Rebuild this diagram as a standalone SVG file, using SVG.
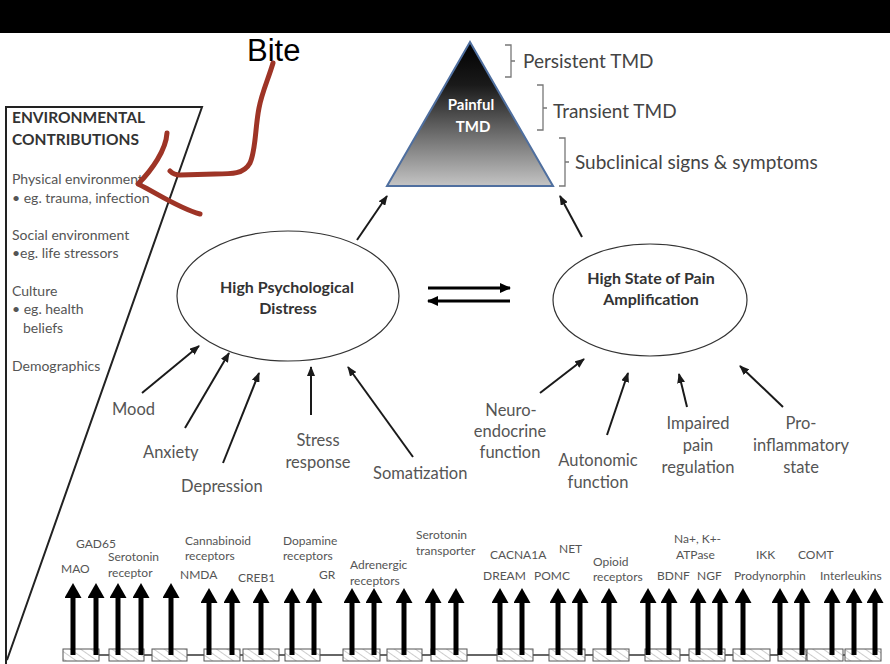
<svg xmlns="http://www.w3.org/2000/svg" width="890" height="664" viewBox="0 0 890 664">
<defs>
<style>
.t{font-family:Lato,"Open Sans","Liberation Sans",sans-serif;fill:#555}
.env{font-size:14px}
.envb{font-size:15.5px;font-weight:bold;fill:#333}
.lab{font-size:16.5px}
.sm{font-size:12px}
.br{font-size:19px;fill:#444}
.bold{font-size:16px;font-weight:bold;fill:#333}
.tri{font-size:15px;font-weight:bold;fill:#fff}
.c{text-anchor:middle}
.thin{stroke:#1a1a1a;stroke-width:2;fill:none;marker-end:url(#sa)}
.big{stroke:#000;stroke-width:5;marker-end:url(#ba)}
.box{fill:url(#hatch);stroke:#555;stroke-width:1}
.brk{fill:none;stroke:#777;stroke-width:1.3}
.red{fill:none;stroke:#9e3426;stroke-width:5;stroke-linecap:round;stroke-linejoin:round}
</style>
<marker id="sa" markerUnits="userSpaceOnUse" viewBox="0 0 10 8" markerWidth="10" markerHeight="8" refX="9" refY="4" orient="auto"><path d="M0,0 L10,4 L0,8 Z" fill="#1a1a1a"/></marker>
<marker id="da" markerUnits="userSpaceOnUse" viewBox="0 0 11 10" markerWidth="11" markerHeight="10" refX="10" refY="5" orient="auto"><path d="M0,0 L11,5 L0,10 Z" fill="#000"/></marker>
<marker id="ba" markerUnits="userSpaceOnUse" viewBox="0 0 15 17" markerWidth="15" markerHeight="17" refX="0" refY="8.5" orient="auto"><path d="M0,0 L15,8.5 L0,17 Z" fill="#000"/></marker>
<linearGradient id="tg" x1="0" y1="0" x2="0" y2="1">
<stop offset="0" stop-color="#000"/>
<stop offset="0.3" stop-color="#1a1a1a"/>
<stop offset="1" stop-color="#c4c4c4"/>
</linearGradient>
<pattern id="hatch" patternUnits="userSpaceOnUse" width="6" height="6" patternTransform="rotate(-55)">
<rect width="6" height="6" fill="#fff"/>
<line x1="0" y1="0" x2="0" y2="6" stroke="#aaa" stroke-width="1.2"/>
</pattern>
</defs>

<rect x="0" y="0" width="890" height="33" fill="#000"/>

<g id="environment">
<path d="M6,664 V107 H202 L7,660" fill="none" stroke="#222" stroke-width="2"/>
<text class="t envb" x="12" y="123">ENVIRONMENTAL</text>
<text class="t envb" x="12" y="145">CONTRIBUTIONS</text>
<text class="t env" x="12" y="184">Physical  environment</text>
<text class="t env" x="12" y="203">• eg. trauma, infection</text>
<text class="t env" x="12" y="240">Social environment</text>
<text class="t env" x="12" y="258">•eg. life stressors</text>
<text class="t env" x="12" y="296">Culture</text>
<text class="t env" x="12" y="314">• eg. health</text>
<text class="t env" x="23" y="333">beliefs</text>
<text class="t env" x="12" y="371">Demographics</text>
</g>

<g id="painful-tmd">
<polygon points="470,42 553,186 387,186" fill="url(#tg)" stroke="#4f6f9f" stroke-width="2"/>
<text class="t tri c" x="471" y="110">Painful</text>
<text class="t tri c" x="473" y="132">TMD</text>
</g>

<g id="tmd-levels">
<path class="brk" d="M505,45 H511 V77 H505 M511,61 H515"/>
<text class="t br" x="523" y="68">Persistent TMD</text>
<path class="brk" d="M537,85 H543 V130 H537 M543,108 H547"/>
<text class="t br" x="553" y="118">Transient TMD</text>
<path class="brk" d="M559,138 H565 V186 H559 M565,162 H569"/>
<text class="t br" x="575" y="169">Subclinical signs &amp; symptoms</text>
</g>

<g id="psych-distress">
<ellipse cx="288" cy="296" rx="111" ry="65" fill="#fff" stroke="#333" stroke-width="1.2"/>
<text class="t bold c" x="287" y="293">High Psychological</text>
<text class="t bold c" x="288" y="314">Distress</text>
</g>

<g id="pain-amplification">
<ellipse cx="650" cy="300" rx="97" ry="56" fill="#fff" stroke="#333" stroke-width="1.2"/>
<text class="t bold c" x="651" y="284">High State of Pain</text>
<text class="t bold c" x="651" y="305">Amplification</text>
</g>

<g id="psych-factors">
<text class="t lab" x="112" y="415">Mood</text>
<text class="t lab" x="143" y="458">Anxiety</text>
<text class="t lab" x="181" y="492">Depression</text>
<text class="t lab c" x="318" y="446">Stress</text>
<text class="t lab c" x="318" y="468">response</text>
<text class="t lab" x="373" y="479">Somatization</text>
</g>

<g id="pain-factors">
<text class="t lab c" x="511" y="416">Neuro-</text>
<text class="t lab c" x="510" y="437">endocrine</text>
<text class="t lab c" x="510" y="458">function</text>
<text class="t lab c" x="598" y="466">Autonomic</text>
<text class="t lab c" x="598" y="488">function</text>
<text class="t lab c" x="698" y="429">Impaired</text>
<text class="t lab c" x="698" y="451">pain</text>
<text class="t lab c" x="698" y="473">regulation</text>
<text class="t lab c" x="801" y="429">Pro-</text>
<text class="t lab c" x="801" y="451">inflammatory</text>
<text class="t lab c" x="801" y="473">state</text>
</g>

<g id="genes">
<text class="t sm" x="76" y="548">GAD65</text>
<text class="t sm" x="61" y="573">MAO</text>
<text class="t sm" x="108" y="561">Serotonin</text>
<text class="t sm" x="108" y="577">receptor</text>
<text class="t sm" x="185" y="545">Cannabinoid</text>
<text class="t sm" x="185" y="560">receptors</text>
<text class="t sm" x="180" y="579">NMDA</text>
<text class="t sm" x="238" y="582">CREB1</text>
<text class="t sm" x="283" y="545">Dopamine</text>
<text class="t sm" x="283" y="560">receptors</text>
<text class="t sm" x="319" y="579">GR</text>
<text class="t sm" x="350" y="569">Adrenergic</text>
<text class="t sm" x="350" y="585">receptors</text>
<text class="t sm" x="416" y="539">Serotonin</text>
<text class="t sm" x="416" y="555">transporter</text>
<text class="t sm" x="490" y="559">CACNA1A</text>
<text class="t sm" x="559" y="553">NET</text>
<text class="t sm" x="483" y="580">DREAM</text>
<text class="t sm" x="534" y="580">POMC</text>
<text class="t sm" x="593" y="566">Opioid</text>
<text class="t sm" x="593" y="581">receptors</text>
<text class="t sm" x="674" y="543">Na+, K+-</text>
<text class="t sm" x="676" y="559">ATPase</text>
<text class="t sm" x="657" y="580">BDNF</text>
<text class="t sm" x="697" y="580">NGF</text>
<text class="t sm" x="756" y="559">IKK</text>
<text class="t sm" x="798" y="559">COMT</text>
<text class="t sm" x="734" y="580">Prodynorphin</text>
<text class="t sm" x="820" y="580">Interleukins</text>
</g>

<g id="dna">
<line x1="63" y1="655" x2="881" y2="655" stroke="#333" stroke-width="1.5"/>
<rect class="box" x="63" y="649" width="36" height="12"/>
<rect class="box" x="109" y="649" width="35" height="12"/>
<rect class="box" x="152" y="649" width="35" height="12"/>
<rect class="box" x="204" y="649" width="36" height="12"/>
<rect class="box" x="243" y="649" width="36" height="12"/>
<rect class="box" x="285" y="649" width="35" height="12"/>
<rect class="box" x="343" y="649" width="37" height="12"/>
<rect class="box" x="387" y="649" width="35" height="12"/>
<rect class="box" x="431" y="649" width="36" height="12"/>
<rect class="box" x="497" y="649" width="36" height="12"/>
<rect class="box" x="549" y="649" width="36" height="12"/>
<rect class="box" x="593" y="649" width="36" height="12"/>
<rect class="box" x="645" y="649" width="35" height="12"/>
<rect class="box" x="689" y="649" width="36" height="12"/>
<rect class="box" x="733" y="649" width="37" height="12"/>
<rect class="box" x="778" y="649" width="28" height="12"/>
<rect class="box" x="807" y="649" width="36" height="12"/>
<rect class="box" x="845" y="649" width="36" height="12"/>
</g>

<g id="connectors">
<line class="thin" x1="357" y1="240" x2="387" y2="196"/>
<line class="thin" x1="582" y1="237" x2="560" y2="196"/>
<line x1="428" y1="288" x2="510" y2="288" stroke="#000" stroke-width="3" marker-end="url(#da)"/>
<line x1="510" y1="301" x2="428" y2="301" stroke="#000" stroke-width="3" marker-end="url(#da)"/>
<line class="thin" x1="142" y1="393" x2="199" y2="346"/>
<line class="thin" x1="185" y1="428" x2="229" y2="353"/>
<line class="thin" x1="223" y1="463" x2="259" y2="373"/>
<line class="thin" x1="311" y1="415" x2="311" y2="367"/>
<line class="thin" x1="413" y1="457" x2="348" y2="367"/>
<line class="thin" x1="540" y1="393" x2="584" y2="359"/>
<line class="thin" x1="607" y1="435" x2="628" y2="373"/>
<line class="thin" x1="687" y1="407" x2="679" y2="374"/>
<line class="thin" x1="783" y1="407" x2="740" y2="366"/>
<line class="big" x1="73" y1="655" x2="73" y2="598"/>
<line class="big" x1="96" y1="655" x2="96" y2="598"/>
<line class="big" x1="118" y1="655" x2="118" y2="598"/>
<line class="big" x1="141" y1="655" x2="141" y2="598"/>
<line class="big" x1="171" y1="655" x2="171" y2="598"/>
<line class="big" x1="209" y1="655" x2="209" y2="603"/>
<line class="big" x1="232" y1="655" x2="232" y2="603"/>
<line class="big" x1="261" y1="655" x2="261" y2="603"/>
<line class="big" x1="292" y1="655" x2="292" y2="603"/>
<line class="big" x1="314" y1="655" x2="314" y2="603"/>
<line class="big" x1="352" y1="655" x2="352" y2="603"/>
<line class="big" x1="374" y1="655" x2="374" y2="603"/>
<line class="big" x1="404" y1="655" x2="404" y2="603"/>
<line class="big" x1="433" y1="655" x2="433" y2="603"/>
<line class="big" x1="456" y1="655" x2="456" y2="603"/>
<line class="big" x1="500" y1="655" x2="500" y2="603"/>
<line class="big" x1="522" y1="655" x2="522" y2="603"/>
<line class="big" x1="558" y1="655" x2="558" y2="603"/>
<line class="big" x1="580" y1="655" x2="580" y2="603"/>
<line class="big" x1="609" y1="655" x2="609" y2="603"/>
<line class="big" x1="648" y1="655" x2="648" y2="603"/>
<line class="big" x1="669" y1="655" x2="669" y2="603"/>
<line class="big" x1="698" y1="655" x2="698" y2="603"/>
<line class="big" x1="720" y1="655" x2="720" y2="603"/>
<line class="big" x1="743" y1="655" x2="743" y2="603"/>
<line class="big" x1="780" y1="655" x2="780" y2="603"/>
<line class="big" x1="802" y1="655" x2="802" y2="603"/>
<line class="big" x1="832" y1="655" x2="832" y2="603"/>
<line class="big" x1="854" y1="655" x2="854" y2="603"/>
<line class="big" x1="875" y1="655" x2="875" y2="603"/>
</g>

<g id="annotation">
<text x="247" y="61" font-family="'Liberation Sans',Arial,sans-serif" font-size="31" fill="#000">Bite</text>
<path class="red" d="M273,63 C268,80 262,92 259,108 C255,128 256,150 250,163 C244,174 232,174 215,174 L180,175 C175,175 172,173 170,171"/>
<path class="red" d="M167,133 C166,150 152,170 138,184 C155,192 178,208 200,214"/>
</g>
</svg>
